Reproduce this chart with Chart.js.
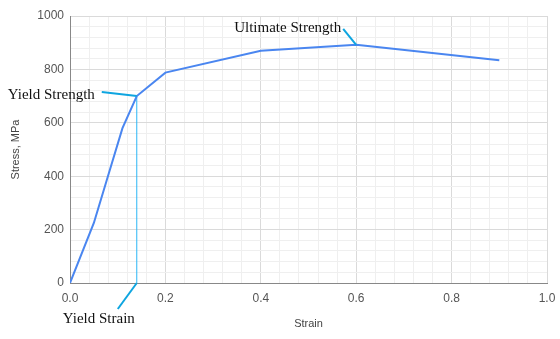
<!DOCTYPE html>
<html><head><meta charset="utf-8">
<script src="https://cdn.jsdelivr.net/npm/chart.js@4"></script>
<style>html,body{margin:0;padding:0;background:#fff}#w{width:560px;height:339px}</style>
</head><body><div id="w"><canvas id="c"></canvas></div>
<script>
const strain = [0, 0.05, 0.077, 0.11, 0.14, 0.2, 0.4, 0.6, 0.9];
const stress = [0, 225, 385, 580, 700, 788, 870, 892, 834];
const yieldStrain = 0.14;
const yieldStress = 700;
const ultimateStrain = 0.6;
const ultimateStress = 892;
const xTitle = "Strain";
const yTitle = "Stress, MPa";
const notes = [
  {text: "Yield Strength", x: yieldStrain, y: yieldStress, dx: -35, dy: -4, tx: -129, ty: -1},
  {text: "Ultimate Strength", x: ultimateStrain, y: ultimateStress, dx: -13, dy: -16, tx: -122, ty: -17},
  {text: "Yield Strain", x: yieldStrain, y: 0, dx: -19, dy: 26, tx: -74, ty: 36}
];

const annot = {
  id: 'annot',
  afterDatasetsDraw(chart) {
    const ctx = chart.ctx, xs = chart.scales.x, ys = chart.scales.y;
    ctx.save();
    notes.forEach(n => {
      const px = xs.getPixelForValue(n.x), py = ys.getPixelForValue(n.y);
      ctx.strokeStyle = '#0ea5e0';
      ctx.lineWidth = 2;
      ctx.beginPath(); ctx.moveTo(px, py); ctx.lineTo(px + n.dx, py + n.dy); ctx.stroke();
      ctx.fillStyle = '#111';
      ctx.font = '15px "Liberation Serif", "Times New Roman", serif';
      ctx.textBaseline = 'middle';
      ctx.textAlign = 'left';
      ctx.fillText(n.text, px + n.tx, py + n.ty);
    });
    ctx.restore();
  }
};

const isMajorX = v => Math.abs(Math.round(v * 100) % 20) === 0;
const isMajorY = v => Math.abs(Math.round(v) % 200) === 0;

new Chart(document.getElementById('c'), {
  type: 'scatter',
  data: {
    datasets: [
      {data: strain.map((x, i) => ({x, y: stress[i]})), showLine: true, borderColor: '#4a86f0', borderWidth: 2, pointRadius: 0, tension: 0},
      {data: [{x: yieldStrain, y: 0}, {x: yieldStrain, y: yieldStress}], showLine: true, borderColor: '#29b6f6', borderWidth: 1, pointRadius: 0}
    ]
  },
  options: {
    responsive: true, maintainAspectRatio: false, animation: false,
    layout: {padding: {left: 9, right: 13, top: 16, bottom: 8}},
    plugins: {legend: {display: false}, tooltip: {enabled: false}},
    scales: {
      x: {
        type: 'linear', min: 0, max: 1,
        border: {color: '#888', width: 1},
        grid: {color: c => isMajorX(c.tick.value) ? '#dadada' : '#efefef', drawTicks: false},
        ticks: {stepSize: 0.04, autoSkip: false, maxTicksLimit: 100, maxRotation: 0, padding: 8, color: '#555', font: {size: 12, family: 'Arial, "Liberation Sans", sans-serif'},
          callback: v => isMajorX(v) ? v.toFixed(1) : ''},
        title: {display: true, text: xTitle, color: '#444', font: {size: 11, family: 'Arial, "Liberation Sans", sans-serif'}, padding: {top: 12, bottom: 0}},
        afterFit: s => { s.height = 48; s.paddingRight = 0; s.paddingLeft = 0; }
      },
      y: {
        min: 0, max: 1000,
        border: {color: '#888', width: 1},
        grid: {color: c => isMajorY(c.tick.value) ? '#dadada' : '#efefef', drawTicks: false},
        ticks: {stepSize: 40, autoSkip: false, maxTicksLimit: 100, padding: 6, color: '#555', font: {size: 12, family: 'Arial, "Liberation Sans", sans-serif'},
          callback: v => isMajorY(v) ? String(Math.round(v)) : ''},
        title: {display: true, text: yTitle, color: '#444', font: {size: 11, family: 'Arial, "Liberation Sans", sans-serif'}, padding: {top: 0, bottom: 4}},
        afterFit: s => { s.width = 61; s.paddingTop = 0; s.paddingBottom = 0; }
      }
    }
  },
  plugins: [annot]
});
</script></body></html>
